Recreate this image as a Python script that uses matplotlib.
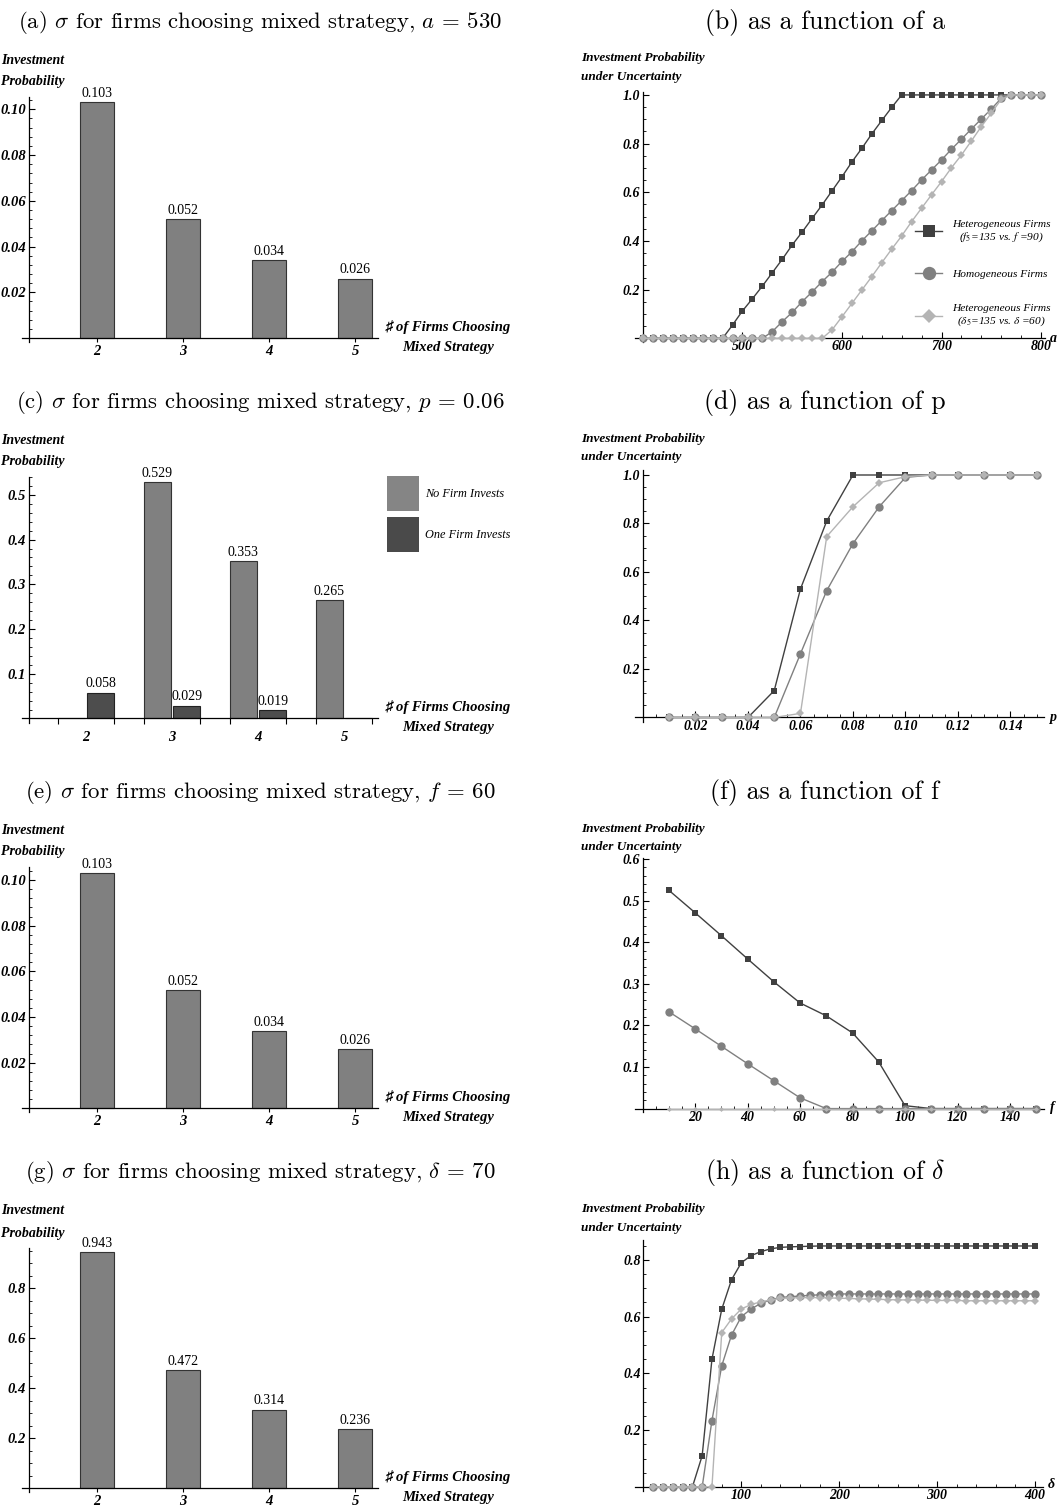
import matplotlib
matplotlib.use("Agg")
import matplotlib.pyplot as plt
from matplotlib.font_manager import FontProperties
from matplotlib.ticker import AutoMinorLocator
from matplotlib.lines import Line2D
from matplotlib.patches import Patch

# ---------------- data ----------------
firm_counts = [2, 3, 4, 5]
firm_labels = ["2", "3", "4", "5"]
sigma_a530 = [0.103, 0.052, 0.034, 0.026]
sigma_p006_none = [0.0, 0.529, 0.353, 0.265]
sigma_p006_one = [0.058, 0.029, 0.019, 0.0]
sigma_f60 = [0.103, 0.052, 0.034, 0.026]
sigma_d70 = [0.943, 0.472, 0.314, 0.236]

a_grid = list(range(400, 801, 10))
a_hetero_f = [0, 0, 0, 0, 0, 0, 0, 0, 0,
              0.055, 0.113, 0.163, 0.215, 0.270, 0.325, 0.384, 0.437, 0.493,
              0.548, 0.606, 0.664, 0.725, 0.781, 0.840, 0.895, 0.949, 1.0,
              1.0, 1.0, 1.0, 1.0, 1.0, 1.0, 1.0, 1.0, 1.0, 1.0, 1.0, 1.0, 1.0, 1.0]
a_homog = [0, 0, 0, 0, 0, 0, 0, 0, 0, 0, 0, 0, 0,
           0.028, 0.069, 0.107, 0.151, 0.191, 0.233, 0.272, 0.316, 0.356, 0.401,
           0.442, 0.484, 0.525, 0.566, 0.607, 0.651, 0.692, 0.733, 0.777, 0.818,
           0.860, 0.901, 0.942, 0.986, 1.0, 1.0, 1.0, 1.0]
a_hetero_d = [0, 0, 0, 0, 0, 0, 0, 0, 0, 0, 0, 0, 0, 0, 0, 0, 0, 0, 0,
              0.035, 0.089, 0.144, 0.199, 0.254, 0.311, 0.367, 0.421, 0.480,
              0.535, 0.590, 0.644, 0.701, 0.753, 0.811, 0.870, 0.925, 0.982,
              1.0, 1.0, 1.0, 1.0]

p_grid = [0.01, 0.02, 0.03, 0.04, 0.05, 0.06, 0.07, 0.08, 0.09, 0.10,
          0.11, 0.12, 0.13, 0.14, 0.15]
p_hetero_f = [0, 0, 0, 0, 0.111, 0.530, 0.810, 1, 1, 1, 1, 1, 1, 1, 1]
p_homog = [0, 0, 0, 0, 0, 0.263, 0.523, 0.717, 0.869, 0.990, 1, 1, 1, 1, 1]
p_hetero_d = [0, 0, 0, 0, 0, 0.017, 0.746, 0.869, 0.968, 0.993, 1, 1, 1, 1, 1]

f_grid = list(range(10, 151, 10))
f_hetero_f = [0.525, 0.471, 0.416, 0.360, 0.305, 0.254, 0.223, 0.182, 0.112,
              0.007, 0, 0, 0, 0, 0]
f_homog = [0.233, 0.192, 0.150, 0.108, 0.067, 0.026, 0, 0, 0, 0, 0, 0, 0, 0, 0]
f_hetero_d = [0, 0, 0, 0, 0, 0, 0, 0, 0, 0, 0, 0, 0, 0, 0]

d_grid = list(range(10, 401, 10))
d_hetero_f = [0, 0, 0, 0, 0, 0.110, 0.450, 0.626, 0.730, 0.790, 0.815, 0.829,
              0.839, 0.844, 0.846, 0.847, 0.848,
              0.849, 0.849, 0.849, 0.849, 0.849, 0.849, 0.849, 0.849, 0.849,
              0.849, 0.849, 0.849, 0.849, 0.849, 0.849, 0.849, 0.849, 0.849,
              0.849, 0.849, 0.849, 0.849, 0.849]
d_homog = [0, 0, 0, 0, 0, 0, 0.234, 0.427, 0.535, 0.600, 0.627, 0.647, 0.659,
           0.668, 0.670, 0.673, 0.675, 0.677, 0.679,
           0.680, 0.680, 0.680, 0.680, 0.680, 0.680, 0.680, 0.680, 0.680,
           0.680, 0.680, 0.680, 0.680, 0.680, 0.680, 0.680, 0.680, 0.680,
           0.680, 0.680, 0.680]
d_hetero_d = [0, 0, 0, 0, 0, 0, 0, 0.544, 0.592, 0.627, 0.643, 0.652, 0.659,
              0.664, 0.666, 0.667, 0.667, 0.667, 0.666, 0.665, 0.664, 0.663,
              0.662, 0.661, 0.660, 0.659, 0.659, 0.658, 0.658, 0.657, 0.657,
              0.657, 0.656, 0.656, 0.656, 0.656, 0.656, 0.656, 0.656, 0.656]

series_names = ["Heterogeneous Firms\n($f_5$=135 vs. $f$ =90)",
                "Homogeneous Firms",
                "Heterogeneous Firms\n($\\delta_5$=135 vs. $\\delta$ =60)"]
bar_legend_names = ["No Firm Invests", "One Firm Invests"]

a_ticks = [500, 600, 700, 800]
p_ticks = [0.02, 0.04, 0.06, 0.08, 0.10, 0.12, 0.14]
p_tick_labels = ["0.02", "0.04", "0.06", "0.08", "0.10", "0.12", "0.14"]
f_ticks = [20, 40, 60, 80, 100, 120, 140]
d_ticks = [100, 200, 300, 400]
prob_ticks = [0.2, 0.4, 0.6, 0.8, 1.0]
prob_tick_labels = ["0.2", "0.4", "0.6", "0.8", "1.0"]
f_prob_ticks = [0.1, 0.2, 0.3, 0.4, 0.5, 0.6]
f_prob_tick_labels = ["0.1", "0.2", "0.3", "0.4", "0.5", "0.6"]
d_prob_ticks = [0.2, 0.4, 0.6, 0.8]
d_prob_tick_labels = ["0.2", "0.4", "0.6", "0.8"]
small_ticks = [0.02, 0.04, 0.06, 0.08, 0.10]
small_tick_labels = ["0.02", "0.04", "0.06", "0.08", "0.10"]
c_ticks = [0.1, 0.2, 0.3, 0.4, 0.5]
c_tick_labels = ["0.1", "0.2", "0.3", "0.4", "0.5"]
g_ticks = [0.2, 0.4, 0.6, 0.8]
g_tick_labels = ["0.2", "0.4", "0.6", "0.8"]

# ---------------- styling ----------------
W, H, DPI = 1057, 1507, 100
DARK = "#404040"
MID = "#808080"
LIGHT = "#b4b4b4"
BAR_LIGHT = "#808080"
BAR_DARK = "#4d4d4d"


def fp_bi(size):
    return FontProperties(family=["Liberation Serif", "DejaVu Sans"],
                          weight="bold", style="italic", size=size)


fig = plt.figure(figsize=(W / DPI, H / DPI), dpi=DPI)


def fx(px):
    return px / W


def fy(py):
    return 1 - py / H


def add_ax(L, T, R, B):
    ax = fig.add_axes([L / W, 1 - B / H, (R - L) / W, (B - T) / H])
    ax.patch.set_visible(False)
    for s in ["top", "right"]:
        ax.spines[s].set_visible(False)
    for s in ["left", "bottom"]:
        ax.spines[s].set_linewidth(0.9)
    return ax


def title(px, py, text, size):
    fig.text(fx(px), fy(py), text, ha="center", va="center",
             family="cmr10", math_fontfamily="cm", size=size)


def left_ylabel(y0, y1):
    fig.text(fx(1), fy(y0), "Investment", ha="left", va="center",
             fontproperties=fp_bi(10))
    fig.text(fx(1), fy(y1), "Probability", ha="left", va="center",
             fontproperties=fp_bi(10))


def firms_xlabel(y0, y1):
    fig.text(fx(448), fy(y0), "\u266f of Firms Choosing", ha="center",
             va="center", fontproperties=fp_bi(10.5))
    fig.text(fx(448), fy(y1), "Mixed Strategy", ha="center",
             va="center", fontproperties=fp_bi(10.5))


# ---------------- bar panels ----------------
def bar_panel(box, xlim, ylim, yaxis_x, values, yticks, yticklabels, minor_n,
              title_txt, title_y, ylab_y, xlab_y):
    ax = add_ax(*box)
    ax.set_xlim(*xlim)
    ax.set_ylim(*ylim)
    ax.spines["left"].set_position(("data", yaxis_x))
    ax.spines["bottom"].set_position(("data", 0))
    ax.bar(firm_counts, values, width=0.4, color=BAR_LIGHT,
           edgecolor="#333333", linewidth=0.8, zorder=2)
    for x, v in zip(firm_counts, values):
        ax.annotate(f"{v:.3f}", (x, v), xytext=(0, 1.5),
                    textcoords="offset points", ha="center", va="bottom",
                    family="Liberation Serif", size=10)
    ax.set_xticks(firm_counts, firm_labels, fontproperties=fp_bi(10.5))
    ax.set_yticks(yticks, yticklabels, fontproperties=fp_bi(10.5))
    ax.yaxis.set_minor_locator(AutoMinorLocator(minor_n))
    ax.tick_params(axis="x", direction="out", length=3, width=0.8, pad=2)
    ax.tick_params(axis="y", which="major", direction="in", length=4,
                   width=0.8, pad=2)
    ax.tick_params(axis="y", which="minor", direction="in", length=2,
                   width=0.6)
    title(260, title_y, title_txt, 16.4)
    left_ylabel(*ylab_y)
    firms_xlabel(*xlab_y)
    return ax


bar_panel((22, 97, 378, 342), (1.128, 5.267), (-0.00175, 0.1054), 1.209,
          sigma_a530, small_ticks, small_tick_labels, 5,
          "(a) $\\sigma$ for firms choosing mixed strategy, $a$ = 530", 22,
          (60, 82), (327, 348))
bar_panel((22, 867, 378, 1112), (1.128, 5.267), (-0.0016, 0.1057), 1.209,
          sigma_f60, small_ticks, small_tick_labels, 5,
          "(e) $\\sigma$ for firms choosing mixed strategy, $f$ = 60", 793,
          (830, 852), (1097, 1118))
bar_panel((22, 1248, 378, 1492), (1.128, 5.267), (-0.016, 0.96), 1.209,
          sigma_d70, g_ticks, g_tick_labels, 4,
          "(g) $\\sigma$ for firms choosing mixed strategy, $\\delta$ = 70", 1173,
          (1210, 1233), (1477, 1498))

# panel (c): grouped bars
axc = add_ax(22, 477, 378, 722.5)
axc.set_xlim(1.256, 5.395)
axc.set_ylim(-0.009, 0.54)
axc.spines["left"].set_position(("data", 1.337))
axc.spines["bottom"].set_position(("data", 0))
xs_light = [c - 0.17 for c in firm_counts]
xs_dark = [c + 0.17 for c in firm_counts]
axc.bar(xs_light, sigma_p006_none, width=0.32, color=BAR_LIGHT,
        edgecolor="#333333", linewidth=0.8, zorder=2)
axc.bar(xs_dark, sigma_p006_one, width=0.32, color=BAR_DARK,
        edgecolor="#222222", linewidth=0.8, zorder=2)
for xs, vals in ((xs_light, sigma_p006_none), (xs_dark, sigma_p006_one)):
    for x, v in zip(xs, vals):
        if v > 0:
            axc.annotate(f"{v:.3f}", (x, v), xytext=(0, 1.5),
                         textcoords="offset points", ha="center", va="bottom",
                         family="Liberation Serif", size=10)
edges = []
for c in firm_counts:
    edges += [c - 0.33, c + 0.33]
axc.set_xticks(edges, [""] * len(edges))
axc.set_xticks(firm_counts, firm_labels, minor=True, fontproperties=fp_bi(10.5))
axc.tick_params(axis="x", which="major", direction="out", length=4, width=0.8)
axc.tick_params(axis="x", which="minor", length=0, pad=9)
axc.set_yticks(c_ticks, c_tick_labels, fontproperties=fp_bi(10.5))
axc.yaxis.set_minor_locator(AutoMinorLocator(5))
axc.tick_params(axis="y", which="major", direction="in", length=4, width=0.8,
                pad=2)
axc.tick_params(axis="y", which="minor", direction="in", length=2, width=0.6)
title(260, 402, "(c) $\\sigma$ for firms choosing mixed strategy, $p$ = 0.06",
      16.4)
left_ylabel(441, 462)
firms_xlabel(707, 728)
leg_c = axc.legend(
    handles=[Patch(facecolor="#858585", edgecolor="none"),
             Patch(facecolor="#4a4a4a", edgecolor="none")],
    labels=bar_legend_names, loc="upper left",
    bbox_to_anchor=(fx(387), fy(476)), bbox_transform=fig.transFigure,
    frameon=False, borderpad=0, borderaxespad=0,
    handlelength=2.62, handleheight=4.04, labelspacing=0.49,
    handletextpad=0.5,
    prop=FontProperties(family="Liberation Serif", style="italic", size=8.8))

# ---------------- line panels ----------------
styles = [(DARK, "s", 5.0), (MID, "o", 6.0), (LIGHT, "D", 4.2)]


def line_panel(box, xlim, ylim, yaxis_x, xs, series, xticks, xticklabels,
               xminor_n, yticks, yticklabels, yminor_n, var, var_pos,
               title_txt, title_y, ylab_y, dia_scale=1.0):
    ax = add_ax(*box)
    ax.set_xlim(*xlim)
    ax.set_ylim(*ylim)
    ax.spines["left"].set_position(("data", yaxis_x))
    ax.spines["bottom"].set_position(("data", 0))
    for ys, (col, mk, ms) in zip(series, styles):
        if mk == "D":
            ms = ms * dia_scale
        ax.plot(xs, ys, color=col, lw=1.0, marker=mk, ms=ms, mew=0,
                clip_on=False, zorder=3)
    ax.set_xticks(xticks, xticklabels, fontproperties=fp_bi(10))
    ax.set_yticks(yticks, yticklabels, fontproperties=fp_bi(10))
    ax.xaxis.set_minor_locator(AutoMinorLocator(xminor_n))
    ax.yaxis.set_minor_locator(AutoMinorLocator(yminor_n))
    ax.tick_params(which="major", direction="in", length=4, width=0.8, pad=2)
    ax.tick_params(which="minor", direction="in", length=2, width=0.6)
    ax.tick_params(axis="x", pad=1.5)
    title(825, title_y, title_txt, 18.6)
    fig.text(fx(581), fy(ylab_y[0]), "Investment Probability", ha="left",
             va="center", fontproperties=fp_bi(9.5))
    fig.text(fx(581), fy(ylab_y[1]), "under Uncertainty", ha="left",
             va="center", fontproperties=fp_bi(9.5))
    fig.text(fx(var_pos[0]), fy(var_pos[1]), var, ha="center", va="center",
             fontproperties=fp_bi(10))
    return ax


axb = line_panel((635, 92, 1045, 342), (392, 804), (-0.0148, 1.012), 400,
                 a_grid, [a_hetero_f, a_homog, a_hetero_d],
                 a_ticks, [str(t) for t in a_ticks], 5,
                 prob_ticks, prob_tick_labels, 4, "a", (1053, 339),
                 "(b) as a function of a", 22, (58, 77))
line_panel((635, 470, 1044, 721.5), (-0.00305, 0.1528), (-0.0165, 1.0206), 0,
           p_grid, [p_hetero_f, p_homog, p_hetero_d],
           p_ticks, p_tick_labels, 4,
           prob_ticks, prob_tick_labels, 4, "p", (1053, 718),
           "(d) as a function of p", 403, (439, 457))
line_panel((635, 858, 1044, 1112), (-2.86, 152.95), (-0.0082, 0.6024), 0,
           f_grid, [f_hetero_f, f_homog, f_hetero_d],
           f_ticks, [str(t) for t in f_ticks], 4,
           f_prob_ticks, f_prob_tick_labels, 5, "f", (1052, 1108),
           "(f) as a function of f", 793, (829, 847), dia_scale=0.6)
line_panel((635, 1240, 1043, 1491), (-8.6, 408.2), (-0.014, 0.870), 0,
           d_grid, [d_hetero_f, d_homog, d_hetero_d],
           d_ticks, [str(t) for t in d_ticks], 5,
           d_prob_ticks, d_prob_tick_labels, 4, "\u03b4", (1051, 1484),
           "(h) as a function of $\\delta$", 1173, (1209, 1228))

# legend of panel (b)
handles = [Line2D([], [], color=c, marker=m, ms=ms * 1.6, mew=0, lw=1.0)
           for (c, m, ms) in styles]
leg_b = axb.legend(
    handles=handles, labels=series_names, loc="center left",
    bbox_to_anchor=(fx(915), fy(274)), bbox_transform=fig.transFigure,
    frameon=False, borderpad=0, borderaxespad=0, handlelength=2.4,
    handletextpad=0.9, labelspacing=2.2,
    prop=FontProperties(family="Liberation Serif", style="italic", size=8.2,
                        math_fontfamily="stix"))
for t in leg_b.get_texts():
    t.set_multialignment("center")

fig.savefig("out.png", dpi=DPI)
